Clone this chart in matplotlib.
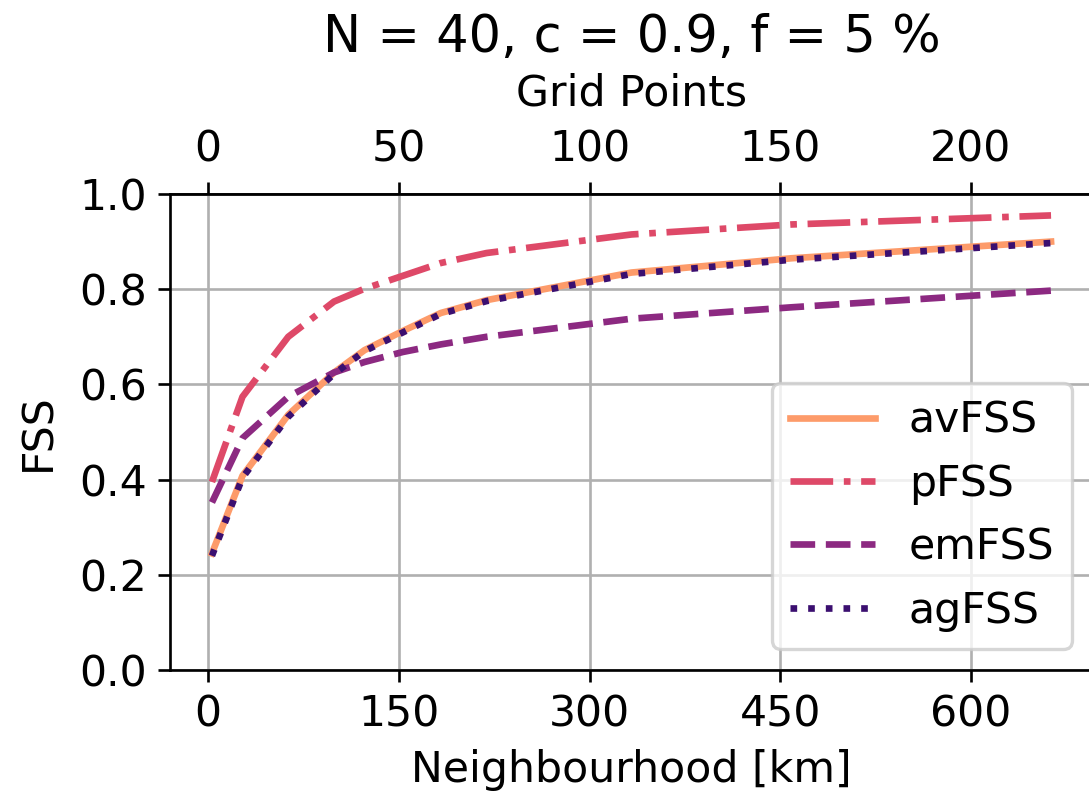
import numpy as np
import matplotlib
matplotlib.use("Agg")
import matplotlib.pyplot as plt

plt.rcParams['font.size'] = 12.8

# neighbourhood sizes [km] (grid spacing 3 km)
km = [3, 27, 63, 99, 123, 153, 183, 219, 333, 459, 663]

av_fss = [0.245, 0.408, 0.536, 0.625, 0.672, 0.712, 0.750, 0.777, 0.835, 0.865, 0.900]
p_fss = [0.395, 0.574, 0.700, 0.774, 0.801, 0.828, 0.855, 0.876, 0.915, 0.936, 0.955]
em_fss = [0.352, 0.487, 0.574, 0.625, 0.647, 0.668, 0.684, 0.700, 0.738, 0.762, 0.797]
ag_fss = [0.240, 0.404, 0.532, 0.622, 0.670, 0.709, 0.748, 0.775, 0.832, 0.862, 0.897]

names = ['avFSS', 'pFSS', 'emFSS', 'agFSS']
colors = ['#fd9b6a', '#de4968', '#8c2981', '#3b0f70']
styles = ['-', '-.', '--', ':']

fig = plt.figure(figsize=(1089/240, 797/240), dpi=240)
ax = fig.add_axes([170/1089, 1 - 670/797, 923/1089, 476/797])

for y, name, c, ls in zip([av_fss, p_fss, em_fss, ag_fss], names, colors, styles):
    ax.plot(km, y, ls, color=c, lw=2, label=name)

ax.set_ylim(0, 1)
ax.set_xticks([0, 150, 300, 450, 600])
ax.set_yticks([0, 0.2, 0.4, 0.6, 0.8, 1.0])
ax.grid(True)
ax.set_xlabel('Neighbourhood [km]')
ax.set_ylabel('FSS', labelpad=6)
ax.legend(loc='lower right')

top = ax.secondary_xaxis('top', functions=(lambda x: x / 3, lambda x: x * 3))
top.set_xticks([0, 50, 100, 150, 200])
top.set_xlabel('Grid Points', labelpad=7)
ax.set_title('N = 40, c = 0.9, f = 5 %', fontsize=15.3)

fig.savefig('out.png', dpi=240)
